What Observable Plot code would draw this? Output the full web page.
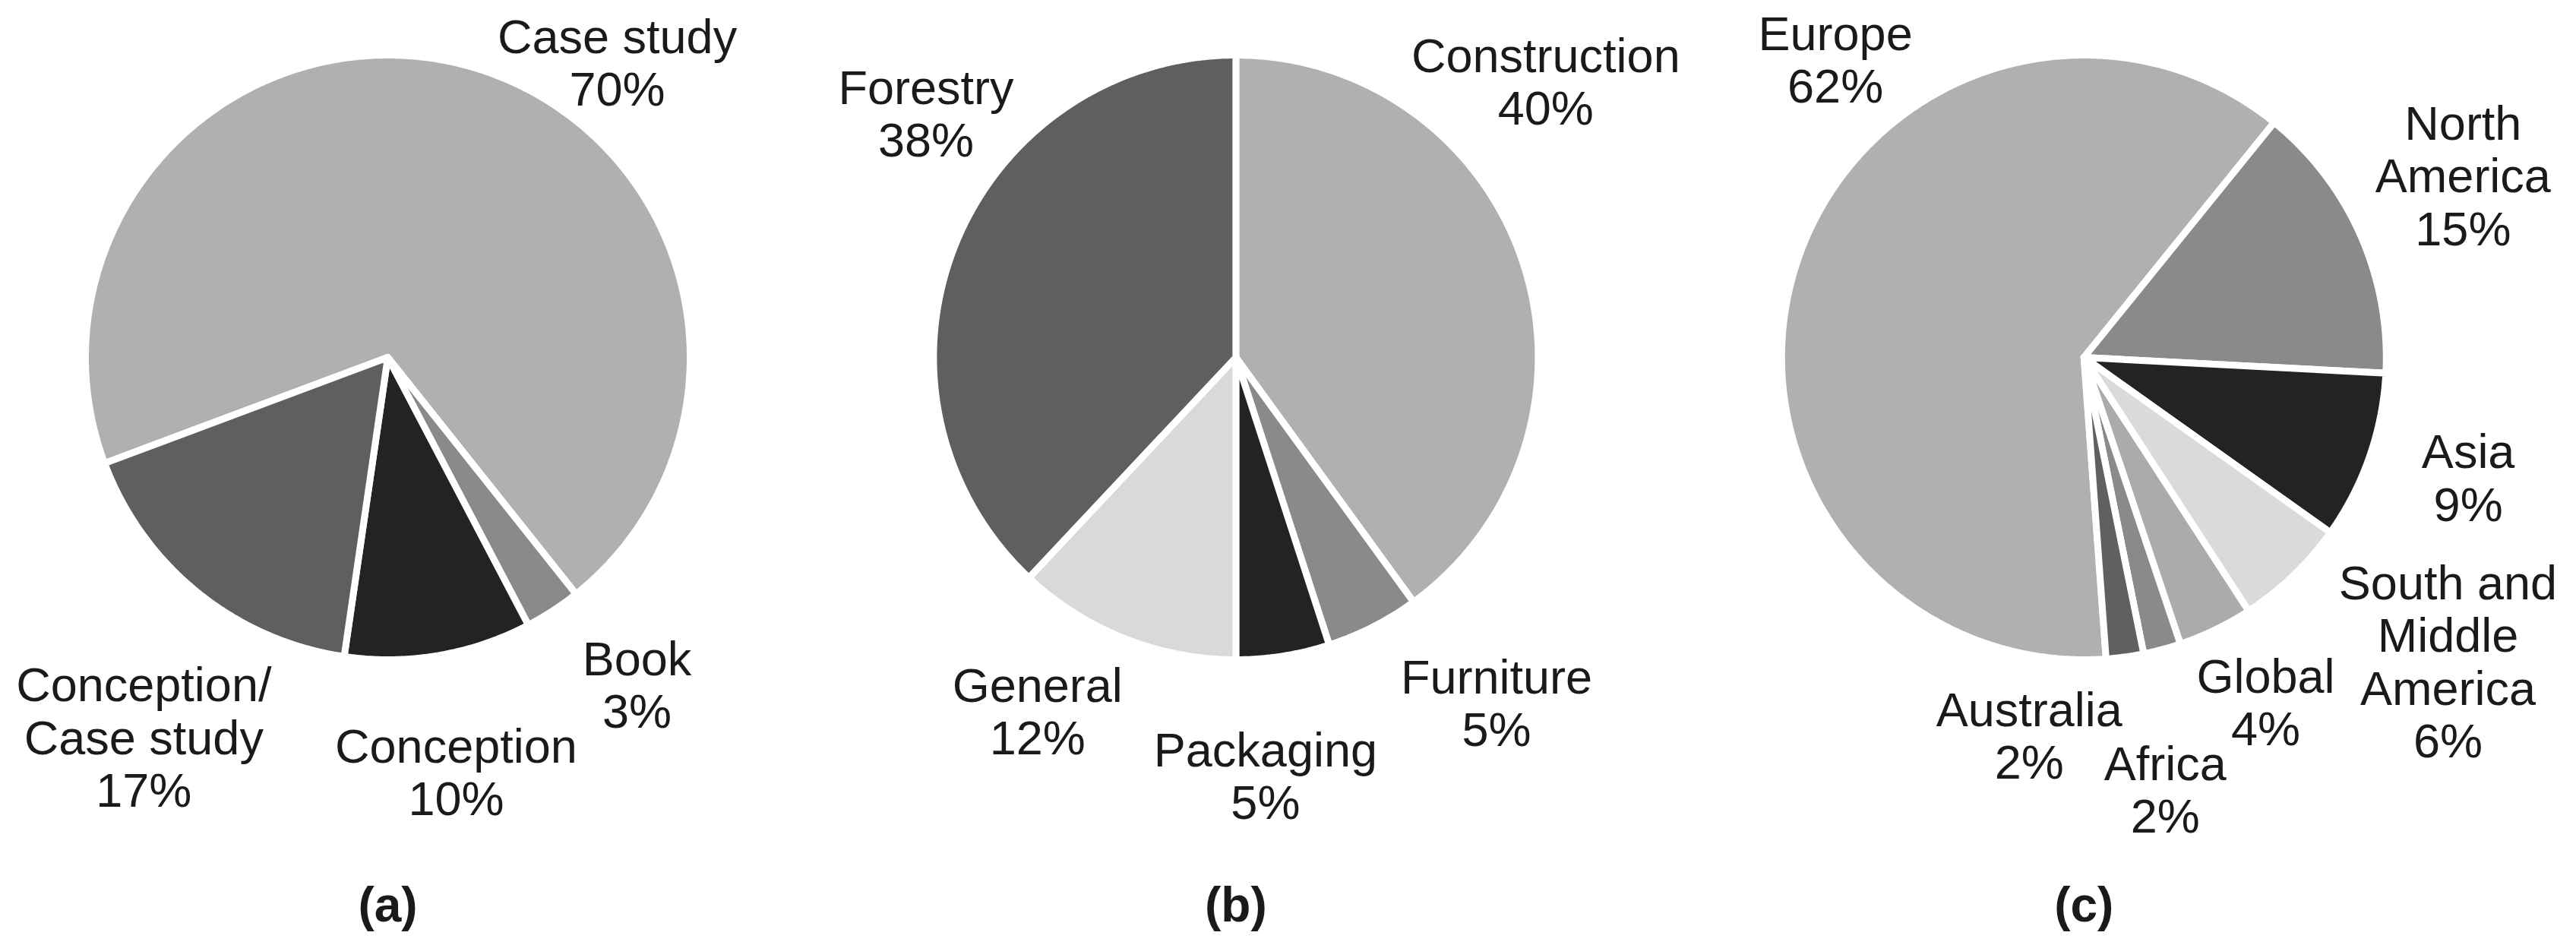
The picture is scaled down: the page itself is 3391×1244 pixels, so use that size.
<!DOCTYPE html>
<html>
<head>
<meta charset="utf-8">
<script src="https://cdn.jsdelivr.net/npm/d3@7"></script>
<script src="https://cdn.jsdelivr.net/npm/@observablehq/plot@0.6"></script>
<style>
  html, body { margin: 0; padding: 0; background: #fff; }
  #chart svg { display: block; }
</style>
</head>
<body>
<div id="chart"></div>
<script>
// ---------------- data ----------------
const categoriesA = ["Case study", "Book", "Conception", "Conception/\nCase study"];
const valuesA = [70, 3, 10, 17];

const categoriesB = ["Construction", "Furniture", "Packaging", "General", "Forestry"];
const valuesB = [40, 5, 5, 12, 38];

const categoriesC = ["Europe", "North\nAmerica", "Asia", "South and\nMiddle\nAmerica", "Global", "Africa", "Australia"];
const valuesC = [62, 15, 9, 6, 4, 2, 2];

const panelLabels = ["(a)", "(b)", "(c)"];

// ---------------- styles / layout ----------------
const colorsA = ["#b0b0b0", "#8a8a8a", "#232323", "#5f5f5f"];
const colorsB = ["#b0b0b0", "#8a8a8a", "#232323", "#d9d9d9", "#5f5f5f"];
const colorsC = ["#b0b0b0", "#8a8a8a", "#232323", "#dadada", "#ababab", "#8a8a8a", "#606060"];

// first-slice angle, degrees clockwise from 12 o'clock
const startAngles = [-110.5, 0, 175.8];

// label placement relative to pie centre, in pie radii (x right, y up)
const labelDXA = [0.759, 0.824, 0.226, -0.807];
const labelDYA = [0.976, -1.082, -1.372, -1.256];
const labelDXB = [1.025, 0.862, 0.098, -0.656, -1.025];
const labelDYB = [0.912, -1.143, -1.384, -1.170, 0.807];
const labelDXC = [-0.822, 1.254, 1.271, 1.204, 0.601, 0.269, -0.181];
const labelDYC = [0.985, 0.601, -0.398, -1.006, -1.141, -1.430, -1.250];
const captionDY = -1.814;

const W = 3391, H = 1244;
const R = 398;          // pixels per pie radius
const CX0 = 510;        // first pie centre (px)
const CY = 470;         // pie centre (px from top)
const STEP = 2.805;     // distance between pie centres, in radii

const pies = [
  {cats: categoriesA, vals: valuesA, colors: colorsA, lx: labelDXA, ly: labelDYA},
  {cats: categoriesB, vals: valuesB, colors: colorsB, lx: labelDXB, ly: labelDYB},
  {cats: categoriesC, vals: valuesC, colors: colorsC, lx: labelDXC, ly: labelDYC}
];

const slicePts = [];
const labels = [];
const captions = [];
const colorDomain = [];
const colorRange = [];

pies.forEach((p, i) => {
  const cx = i * STEP;
  const a0 = startAngles[i] * Math.PI / 180;
  const arcs = d3.pie().sort(null).value(d => d.v)
    .startAngle(a0).endAngle(a0 + 2 * Math.PI)(p.cats.map((c, j) => ({c, v: p.vals[j]})));
  arcs.forEach((a, j) => {
    const key = i + "-" + j;
    colorDomain.push(key);
    colorRange.push(p.colors[j]);
    slicePts.push({key, x: cx, y: 0});
    const n = Math.max(2, Math.ceil((a.endAngle - a.startAngle) / (Math.PI / 360)));
    for (let k = 0; k <= n; k++) {
      const t = a.startAngle + (a.endAngle - a.startAngle) * k / n;
      slicePts.push({key, x: cx + Math.sin(t), y: Math.cos(t)});
    }
    labels.push({x: cx + p.lx[j], y: p.ly[j], text: a.data.c + "\n" + a.data.v + "%"});
  });
  captions.push({x: cx, y: captionDY, text: panelLabels[i]});
});

const chart = Plot.plot({
  width: W,
  height: H,
  margin: 0,
  style: {background: "#fff", fontFamily: "'Liberation Sans', Arial, sans-serif"},
  x: {axis: null, domain: [-CX0 / R, (W - CX0) / R], range: [0, W]},
  y: {axis: null, domain: [-(H - CY) / R, CY / R], range: [H, 0]},
  color: {type: "ordinal", domain: colorDomain, range: colorRange},
  marks: [
    Plot.line(slicePts, {
      x: "x", y: "y", z: "key", fill: "key",
      stroke: "white", strokeWidth: 9, strokeLinejoin: "round",
      curve: "linear-closed"
    }),
    Plot.text(labels, {
      x: "x", y: "y", text: "text",
      fontSize: 63, lineHeight: 1.1, fill: "#1a1a1a", textAnchor: "middle"
    }),
    Plot.text(captions, {
      x: "x", y: "y", text: "text",
      fontSize: 64, fontWeight: "bold", fill: "#1a1a1a", textAnchor: "middle"
    })
  ]
});
document.getElementById("chart").appendChild(chart);
</script>
</body>
</html>
